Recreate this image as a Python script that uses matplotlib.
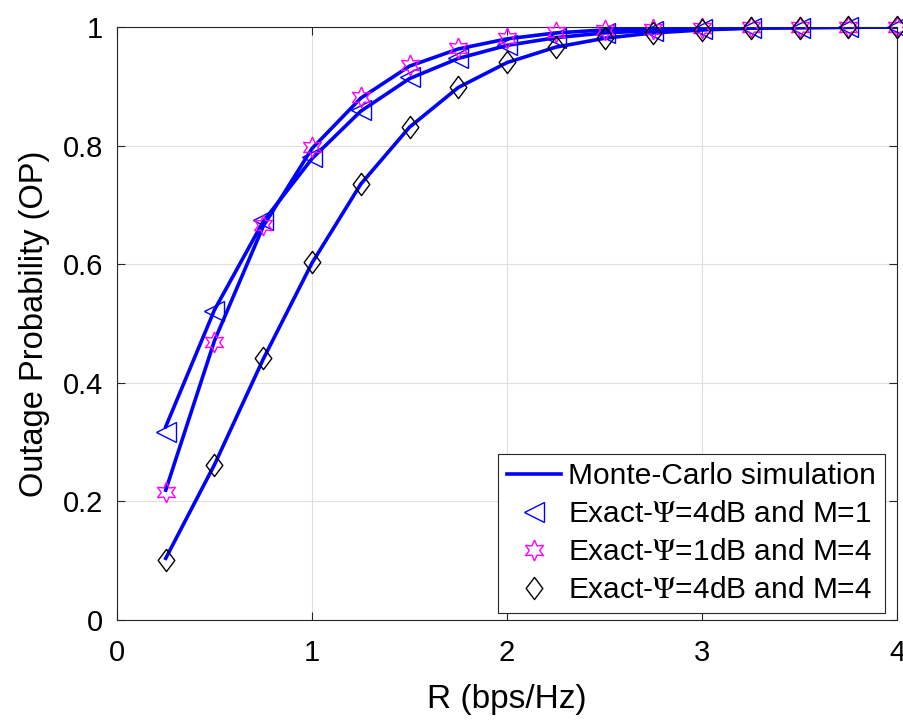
import matplotlib.pyplot as plt
from matplotlib.path import Path

plt.rcParams['font.family'] = ['Liberation Sans', 'DejaVu Sans']
plt.rcParams['mathtext.fontset'] = 'stix'

R = [0.25, 0.5, 0.75, 1.0, 1.25, 1.5, 1.75, 2.0, 2.25, 2.5, 2.75, 3.0, 3.25, 3.5, 3.75, 4.0]

# exact (markers)
op_4dB_M1 = [0.317, 0.521, 0.675, 0.781, 0.860, 0.916, 0.948, 0.970, 0.982, 0.990,
             0.994, 0.997, 0.998, 0.999, 0.9995, 1.0]
op_1dB_M4 = [0.215, 0.469, 0.666, 0.798, 0.882, 0.936, 0.964, 0.981, 0.991, 0.995,
             0.997, 0.999, 0.9995, 0.9998, 0.9999, 1.0]
op_4dB_M4 = [0.101, 0.261, 0.442, 0.604, 0.736, 0.832, 0.899, 0.941, 0.967, 0.981,
             0.990, 0.995, 0.998, 0.999, 0.9995, 1.0]

# Monte-Carlo simulation (lines)
sim_4dB_M1 = [0.326, 0.523, 0.672, 0.778, 0.858, 0.913, 0.947, 0.969, 0.982, 0.990,
              0.994, 0.997, 0.998, 0.999, 0.9995, 1.0]
sim_1dB_M4 = [0.219, 0.471, 0.664, 0.795, 0.880, 0.934, 0.963, 0.980, 0.990, 0.995,
              0.997, 0.999, 0.9995, 0.9998, 0.9999, 1.0]
sim_4dB_M4 = [0.104, 0.262, 0.440, 0.602, 0.735, 0.831, 0.898, 0.940, 0.966, 0.981,
              0.990, 0.995, 0.998, 0.999, 0.9995, 1.0]

diamond = Path([(0, 1), (0.75, 0), (0, -1), (-0.75, 0), (0, 1)],
               [Path.MOVETO, Path.LINETO, Path.LINETO, Path.LINETO, Path.CLOSEPOLY])

fig = plt.figure(figsize=(9.04, 7.2), dpi=100)
ax = fig.add_axes([0.1294, 0.1389, 0.8629, 0.8236])

lw = 2.6
ax.plot(R, sim_4dB_M1, color='#0000ff', lw=lw, label='Monte-Carlo simulation', zorder=2)
ax.plot(R, sim_1dB_M4, color='#0000ff', lw=lw, zorder=2)
ax.plot(R, sim_4dB_M4, color='#0000ff', lw=lw, zorder=2)

ax.plot(R, op_4dB_M1, linestyle='none', marker='<', ms=15, mfc='none', mec='#0000ff',
        mew=1.0, label=r'Exact-$\mathrm{\Psi}$=4dB and M=1', zorder=3, clip_on=False)
ax.plot(R, op_1dB_M4, linestyle='none', marker=(6, 1, 0), ms=15, mfc='none', mec='#ff00ff',
        mew=1.0, label=r'Exact-$\mathrm{\Psi}$=1dB and M=4', zorder=3, clip_on=False)
ax.plot(R, op_4dB_M4, linestyle='none', marker=diamond, ms=16, mfc='none', mec='black',
        mew=1.0, label=r'Exact-$\mathrm{\Psi}$=4dB and M=4', zorder=3, clip_on=False)

ax.set_xlim(0, 4)
ax.set_ylim(0, 1)
ax.set_xticks([0, 1, 2, 3, 4])
ax.set_yticks([0, 0.2, 0.4, 0.6, 0.8, 1])
ax.set_yticklabels(['0', '0.2', '0.4', '0.6', '0.8', '1'])
ax.grid(True, color='#dfdfdf', lw=0.8)
ax.set_axisbelow(True)
ax.tick_params(direction='in', top=True, right=True, labelsize=21, length=6,
               color='#262626')
ax.tick_params(axis='x', pad=14)
ax.tick_params(axis='y', pad=10)
for s in ax.spines.values():
    s.set_color('#262626')
    s.set_linewidth(0.8)

ax.set_xlabel('R (bps/Hz)', fontsize=24, labelpad=12)
ax.set_ylabel('Outage Probability (OP)', fontsize=23.5, labelpad=9)

leg = ax.legend(loc='lower right', bbox_to_anchor=(0.9846, 0.0118), borderaxespad=0,
                fontsize=21.5, frameon=True, fancybox=False,
                edgecolor='#262626', framealpha=1,
                handlelength=1.8, handletextpad=0.25, labelspacing=0.33, borderpad=0.3)
leg.get_frame().set_linewidth(0.8)
leg.set_zorder(5)

fig.savefig('out.png', dpi=100)
